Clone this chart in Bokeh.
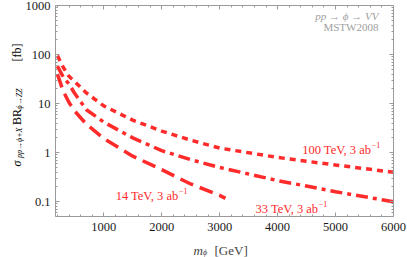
import math
from bokeh.plotting import figure
from bokeh.models import (Label, LinearAxis, LogAxis, FixedTicker,
                          CustomJSTickFormatter, Range1d)
from bokeh.embed import file_html
from bokeh.resources import INLINE

# ---------------- data ----------------
mass_100 = [200, 300, 400, 500, 700, 1000, 1500, 2000, 2500, 3000, 4000, 5000, 6000]
sigma_100 = [95, 55, 36, 28, 16.5, 9.0, 4.6, 2.75, 1.8, 1.24, 0.80, 0.56, 0.40]

mass_33 = [200, 300, 400, 500, 700, 1000, 1500, 2000, 2500, 3000, 4000, 5000, 6000]
sigma_33 = [58, 35, 25, 16, 7.5, 4.2, 2.0, 1.1, 0.72, 0.50, 0.27, 0.16, 0.10]

mass_14 = [200, 300, 400, 500, 700, 1000, 1500, 2000, 2500, 3000, 3100]
sigma_14 = [40, 18, 10.5, 7.0, 3.8, 1.95, 0.85, 0.45, 0.23, 0.135, 0.117]

series_labels = ["100 TeV, 3 ab", "33 TeV, 3 ab", "14 TeV, 3 ab"]
x_ticks = [1000, 2000, 3000, 4000, 5000, 6000]
x_tick_labels = ["1000", "2000", "3000", "4000", "5000", "6000"]
y_ticks = [0.1, 1, 10, 100, 1000]
y_tick_labels = ["0.1", "1", "10", "100", "1000"]

# ---------------- layout ----------------
W, H = 407, 257
X0, X1 = 167, 6000          # data box limits
Y0, Y1 = 0.05, 1000
BX0, BX1, BY0, BY1 = 55, 393, 5, 216   # data box in canvas pixels
SERIF = "Liberation Serif"
RED = "#ff2a2a"
GRAY = "#9a9a9a"
LY0, LY1 = math.log10(Y0), math.log10(Y1)


def xd(px):
    return X0 + (px - BX0) / (BX1 - BX0) * (X1 - X0)


def yd(py):
    return 10 ** (LY0 + (BY1 - py) / (BY1 - BY0) * (LY1 - LY0))


p = figure(width=W, height=H, x_range=Range1d(xd(0), xd(W)), y_range=Range1d(yd(H), yd(0)),
           y_axis_type="log", output_backend="svg", toolbar_location=None,
           x_axis_location=None, y_axis_location=None, title=None, min_border=0)
p.min_border_left = p.min_border_right = p.min_border_top = p.min_border_bottom = 0
p.background_fill_color = "white"
p.border_fill_color = "white"
p.outline_line_color = None
p.xgrid.visible = False
p.ygrid.visible = False

x_minor = [v for v in range(200, 6001, 200) if v % 1000 != 0]
y_minor = []
for e in range(-2, 3):
    for k in range(2, 10):
        v = k * 10 ** e
        if Y0 <= v <= Y1:
            y_minor.append(v)


def style_axis(ax, major_len=4, minor_len=2, line=True):
    ax.axis_line_color = GRAY if line else None
    ax.major_tick_line_color = GRAY
    ax.minor_tick_line_color = GRAY
    ax.major_tick_in = major_len
    ax.major_tick_out = 0
    ax.minor_tick_in = minor_len
    ax.minor_tick_out = 0
    ax.major_label_text_font = SERIF
    ax.major_label_text_color = "#1a1a1a"
    ax.major_label_text_font_size = "12.5px"


# bottom axis (fixed on the lower edge of the data box)
xa = LinearAxis(ticker=FixedTicker(ticks=x_ticks, minor_ticks=x_minor),
                formatter=CustomJSTickFormatter(args=dict(labs=x_tick_labels, tvals=x_ticks),
                                                code="const i = tvals.indexOf(tick); return i >= 0 ? labs[i] : '';"),
                fixed_location=Y0, bounds=(X0, X1))
style_axis(xa)
xa.major_label_standoff = 6
p.add_layout(xa, "below")

# left axis
ya = LogAxis(ticker=FixedTicker(ticks=y_ticks, minor_ticks=y_minor),
             formatter=CustomJSTickFormatter(args=dict(labs=y_tick_labels, tvals=y_ticks),
                                             code="let best=-1, bd=1e9; for (let i=0;i<tvals.length;i++){const d=Math.abs(Math.log10(tvals[i])-Math.log10(tick)); if(d<bd){bd=d;best=i;}} return bd<1e-6 ? labs[best] : '';"),
             fixed_location=X0, bounds=(Y0, Y1))
style_axis(ya)
ya.major_label_standoff = 5
p.add_layout(ya, "left")

# top edge: frame line + inward ticks (ticks given as minor ticks -> no labels)
top_a = LinearAxis(ticker=FixedTicker(ticks=[], minor_ticks=x_ticks), fixed_location=Y1,
                   bounds=(X0, X1))
style_axis(top_a, minor_len=4)
p.add_layout(top_a, "above")
top_b = LinearAxis(ticker=FixedTicker(ticks=[], minor_ticks=x_minor), fixed_location=Y1,
                   bounds=(X0, X1))
style_axis(top_b, minor_len=2, line=False)
p.add_layout(top_b, "above")

# right edge
right_a = LogAxis(ticker=FixedTicker(ticks=[], minor_ticks=y_ticks), fixed_location=X1,
                  bounds=(Y0, Y1))
style_axis(right_a, minor_len=4)
p.add_layout(right_a, "right")
right_b = LogAxis(ticker=FixedTicker(ticks=[], minor_ticks=y_minor), fixed_location=X1,
                  bounds=(Y0, Y1))
style_axis(right_b, minor_len=2, line=False)
p.add_layout(right_b, "right")

# ---------------- curves ----------------
p.line(mass_100, sigma_100, line_color=RED, line_width=3.5, line_dash="6 5", line_cap="butt")
p.line(mass_33, sigma_33, line_color=RED, line_width=3.5, line_dash="12 5 4 5", line_cap="butt")
p.line(mass_14, sigma_14, line_color=RED, line_width=3.5, line_dash="14 7", line_cap="butt")

# ---------------- curve labels ----------------
label_anchor = [(5616, 1.15), (4702, 0.0708), (2288, 0.131)]
for txt, (ax_, ay_) in zip(series_labels, label_anchor):
    p.add_layout(Label(x=ax_, y=ay_, text=txt, text_align="right", text_baseline="alphabetic",
                       text_font=SERIF, text_font_size="12.5px", text_color=RED))
    p.add_layout(Label(x=ax_, y=ay_, text="\u22121", text_align="left", text_baseline="alphabetic",
                       x_offset=0.5, y_offset=5, text_font=SERIF, text_font_size="8px",
                       text_color=RED))

# ---------------- top-right notes ----------------
p.add_layout(Label(x=5740, y=619, text="pp \u2192 \u03d5 \u2192 VV", text_align="right",
                   text_baseline="alphabetic", text_font=SERIF, text_font_style="italic",
                   text_font_size="11px", text_color="#a0a0a0"))
p.add_layout(Label(x=5740, y=369, text="MSTW2008", text_align="right",
                   text_baseline="alphabetic", text_font=SERIF,
                   text_font_size="11px", text_color="#a0a0a0"))

# ---------------- axis titles (composed) ----------------
p.add_layout(Label(x=xd(193), y=yd(249.5), text="m", text_font=SERIF, text_font_style="italic",
                   text_font_size="13px", text_baseline="alphabetic", text_align="left"))
p.add_layout(Label(x=xd(202.5), y=yd(252), text="\u03d5", text_font=SERIF, text_font_style="italic",
                   text_font_size="8px", text_baseline="alphabetic", text_align="left"))
p.add_layout(Label(x=xd(214), y=yd(249.5), text="[GeV]", text_font=SERIF,
                   text_font_size="13px", text_baseline="alphabetic", text_align="left"))

ang = math.pi / 2
ypieces = [
    ("\u03c3", 166, 16.5, "12px", "italic"),
    ("pp\u2192\u03d5+X", 157.5, 19.0, "8px", "italic"),
    ("BR", 124.5, 16.5, "12px", "normal"),
    ("\u03d5\u2192ZZ", 109, 19.0, "8px", "italic"),
    ("[fb]", 61, 16.5, "12px", "normal"),
]
for txt, py, px, fs, st in ypieces:
    p.add_layout(Label(x=xd(px), y=yd(py), text=txt, angle=ang, text_font=SERIF,
                       text_font_style=st, text_font_size=fs, text_align="left",
                       text_baseline="alphabetic", text_color="black"))

open("out.html", "w").write(file_html(p, INLINE))
